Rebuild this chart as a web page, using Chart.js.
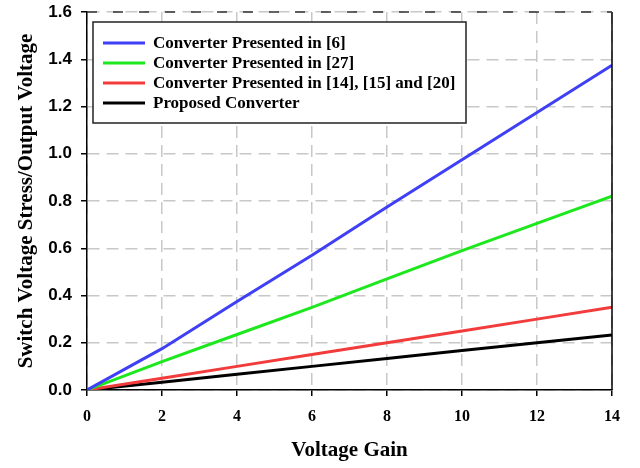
<!DOCTYPE html>
<html>
<head>
<meta charset="utf-8">
<script src="https://cdn.jsdelivr.net/npm/chart.js@4/dist/chart.umd.min.js"></script>
<style>
  html, body { margin: 0; padding: 0; background: #fff; }
  #wrap { width: 640px; height: 468px; }
</style>
</head>
<body>
<div id="wrap"><canvas id="myChart" width="640" height="468"></canvas></div>
<script>
// values
const gain = [0, 2, 4, 6, 8, 10, 12, 14];
const conv6 = [0, 0.175, 0.375, 0.57, 0.775, 0.975, 1.175, 1.375];
const conv27 = [0, 0.12, 0.235, 0.35, 0.47, 0.59, 0.705, 0.82];
const conv14 = [0, 0.05, 0.10, 0.15, 0.20, 0.25, 0.30, 0.35];
const proposed = [0, 0.033, 0.067, 0.10, 0.133, 0.167, 0.20, 0.233];

const labels = ['Converter Presented in [6]', 'Converter Presented in [27]',
  'Converter Presented in [14], [15] and [20]', 'Proposed Converter'];
const colors = ['#3f3ff5', '#1de81d', '#f23b3b', '#000000'];
const series = [conv6, conv27, conv14, proposed];

const pts = (ys) => gain.map((g, i) => ({ x: g, y: ys[i] }));

// frame: solid right border, dashed top border
const framePlugin = {
  id: 'frame',
  afterDatasetsDraw(chart) {
    const { ctx, chartArea: a } = chart;
    ctx.save();
    ctx.strokeStyle = '#000';
    ctx.lineWidth = 1.5;
    ctx.beginPath();
    ctx.moveTo(a.right, a.top);
    ctx.lineTo(a.right, a.bottom);
    ctx.stroke();
    ctx.strokeStyle = '#333';
    ctx.setLineDash([10, 16]);
    ctx.beginPath();
    ctx.moveTo(a.left, a.top);
    ctx.lineTo(a.right, a.top);
    ctx.stroke();
    ctx.restore();
  }
};

// legend box inside the plot
const legendBox = {
  id: 'legendBox',
  afterDraw(chart) {
    const ctx = chart.ctx;
    ctx.save();
    ctx.fillStyle = '#fff';
    ctx.fillRect(93, 22, 373, 101);
    ctx.strokeStyle = '#222';
    ctx.lineWidth = 1.5;
    ctx.strokeRect(93, 22, 373, 101);
    ctx.font = 'bold 17px "Liberation Serif", "Times New Roman", serif';
    ctx.textBaseline = 'middle';
    chart.data.datasets.forEach((ds, i) => {
      const y = 43 + i * 20;
      ctx.strokeStyle = ds.borderColor;
      ctx.lineWidth = 3;
      ctx.beginPath();
      ctx.moveTo(103, y);
      ctx.lineTo(145, y);
      ctx.stroke();
      ctx.fillStyle = '#000';
      ctx.fillText(ds.label, 153, y + 1);
    });
    ctx.restore();
  }
};

const gridOpts = {
  color: '#c8c8c8',
  lineWidth: 1.5,
  tickBorderDash: [],
  tickColor: '#000',
  tickLength: 6
};

const ctx = document.getElementById('myChart').getContext('2d');
const myChart = new Chart(ctx, {
  type: 'scatter',
  data: {
    datasets: series.map((s, i) => ({
      label: labels[i],
      data: pts(s),
      showLine: true,
      borderColor: colors[i],
      backgroundColor: colors[i],
      borderWidth: 3,
      pointRadius: 0,
      tension: 0
    }))
  },
  options: {
    responsive: false,
    animation: false,
    layout: { padding: { top: 12, right: 28, left: 0, bottom: 0 } },
    scales: {
      x: {
        type: 'linear',
        min: 0,
        max: 14,
        afterFit: (s) => { s.height = 78; s.paddingLeft = 0; s.paddingRight = 0; },
        ticks: {
          stepSize: 2,
          color: '#000',
          padding: 11,
          font: { family: '"Liberation Serif", serif', size: 16, weight: 'bold' }
        },
        grid: gridOpts,
        border: { display: true, color: '#000', width: 1.5, dash: [12, 7] },
        title: {
          display: true,
          text: 'Voltage Gain',
          color: '#000',
          padding: { top: 0, bottom: 5 },
          font: { family: '"Liberation Serif", serif', size: 21, weight: 'bold' }
        }
      },
      y: {
        min: 0,
        max: 1.6,
        afterFit: (s) => { s.width = 87; s.paddingTop = 0; s.paddingBottom = 0; },
        ticks: {
          stepSize: 0.2,
          color: '#000',
          padding: 9,
          callback: (v) => v.toFixed(1),
          font: { family: '"Liberation Sans", Arial, sans-serif', size: 17, weight: 'bold' }
        },
        grid: gridOpts,
        border: { display: true, color: '#000', width: 1.5, dash: [12, 7] },
        title: {
          display: true,
          text: 'Switch Voltage Stress/Output Voltage',
          color: '#000',
          padding: { top: 14, bottom: 0 },
          font: { family: '"Liberation Serif", serif', size: 21, weight: 'bold' }
        }
      }
    },
    plugins: {
      legend: { display: false },
      tooltip: { enabled: false }
    }
  },
  plugins: [framePlugin, legendBox]
});
myChart.update();
</script>
</body>
</html>
